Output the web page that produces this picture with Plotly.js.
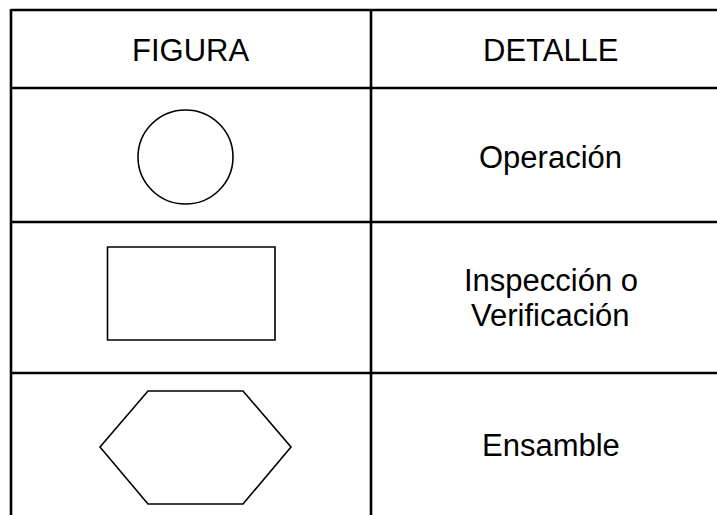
<!DOCTYPE html>
<html>
<head>
<meta charset="utf-8">
<script src="https://cdn.plot.ly/plotly-3.0.1.min.js"></script>
<style>html,body{margin:0;padding:0;background:#fff;}#chart{width:717px;height:515px;}</style>
</head>
<body>
<div id="chart"></div>
<script>
// ---- content ----
const headers = ['FIGURA', 'DETALLE'];
const figures = ['circle', 'rect', 'hexagon'];
const details = ['Operación', 'Inspección o\nVerificación', 'Ensamble'];

// ---- layout geometry (pixels in a 717x515 frame) ----
const W = 717, H = 515;
const colEdges = [11, 371, 730];
const rowEdges = [10, 88, 222, 373, H];
const FONT = 'Liberation Sans, Arial, sans-serif';
const FS = 31;
const LINE_GAP = 35;

const shapes = [];
const annotations = [];

// table lines
for (let i = 0; i < rowEdges.length - 1; i++) {
  shapes.push({type: 'line', xref: 'x', yref: 'y', x0: colEdges[0], x1: W + 2, y0: rowEdges[i], y1: rowEdges[i],
    line: {color: '#000', width: 2.6}});
}
[colEdges[0], colEdges[1]].forEach(x => {
  shapes.push({type: 'line', xref: 'x', yref: 'y', x0: x, x1: x, y0: rowEdges[0] - 1, y1: H,
    line: {color: '#000', width: 2.6}});
});

function textAt(str, cx, cy) {
  const lines = str.split('\n');
  const n = lines.length;
  lines.forEach((ln, k) => {
    annotations.push({xref: 'x', yref: 'y', x: cx, y: cy + (k - (n - 1) / 2) * LINE_GAP,
      text: ln, showarrow: false, xanchor: 'center', yanchor: 'middle',
      font: {family: FONT, size: FS, color: '#000'}});
  });
}

// header
headers.forEach((h, i) => textAt(h, i === 0 ? 190.5 : 550.5, 50));

// body rows
const figCx = [185.5, 191, 195.5];
const textCy = [157.5, 298, 445];
figures.forEach((kind, r) => {
  const cx = figCx[r];
  const ln = {color: '#000', width: 1.6};
  if (kind === 'circle') {
    shapes.push({type: 'circle', xref: 'x', yref: 'y', x0: cx - 47.5, x1: cx + 47.5, y0: 110, y1: 204, line: ln});
  } else if (kind === 'rect') {
    shapes.push({type: 'rect', xref: 'x', yref: 'y', x0: 107.5, x1: 275, y0: 247, y1: 340, line: ln});
  } else if (kind === 'hexagon') {
    const pts = [[100, 447], [148, 391], [243, 391], [291, 447], [243, 504], [148, 504]];
    const path = 'M ' + pts.map(p => p[0] + ',' + p[1]).join(' L ') + ' Z';
    shapes.push({type: 'path', xref: 'x', yref: 'y', path: path, line: ln});
  }
  textAt(details[r], 550.5, textCy[r]);
});

const layout = {
  width: W, height: H,
  margin: {l: 0, r: 0, t: 0, b: 0},
  paper_bgcolor: '#fff', plot_bgcolor: '#fff',
  showlegend: false,
  xaxis: {range: [0, W], visible: false, fixedrange: true},
  yaxis: {range: [H, 0], visible: false, fixedrange: true},
  shapes: shapes,
  annotations: annotations
};

Plotly.newPlot('chart', [{x: [], y: [], type: 'scatter', mode: 'markers', hoverinfo: 'skip'}], layout,
  {displayModeBar: false, staticPlot: true});
</script>
</body>
</html>
